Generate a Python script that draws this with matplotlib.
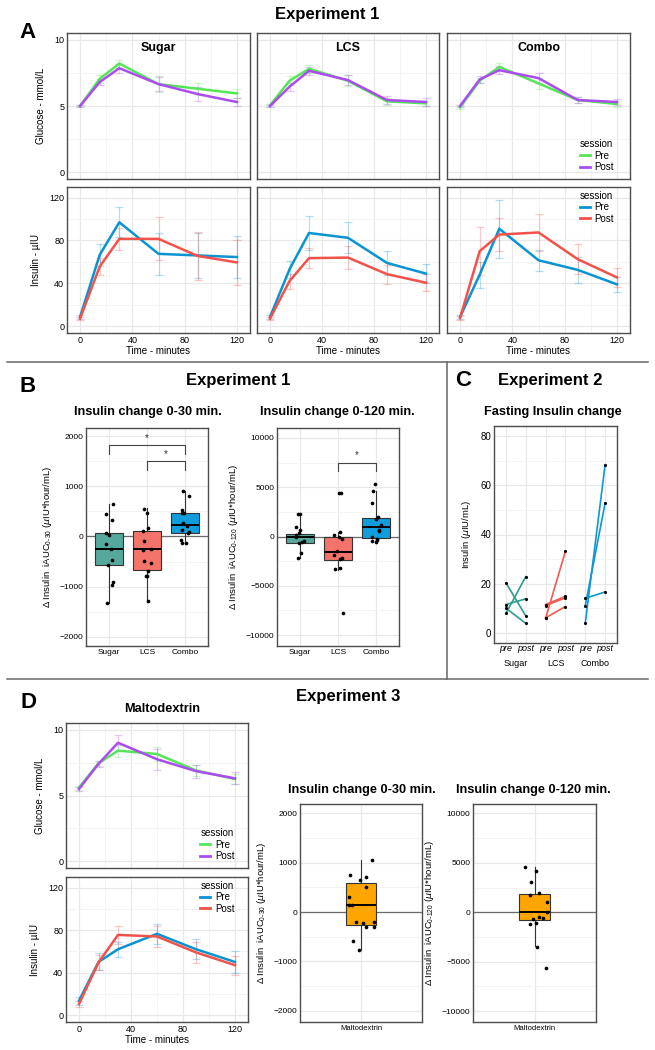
import numpy as np
import matplotlib.pyplot as plt
from matplotlib.lines import Line2D

plt.rcParams['font.family'] = ['Liberation Sans', 'DejaVu Sans']
plt.rcParams['mathtext.default'] = 'regular'

W, H = 655, 1050

# ---------------- data ----------------
times = [0, 15, 30, 60, 90, 120]

# Experiment 1 glucose (mmol/L), mean and SE
glu_sugar_pre = [5.0, 7.05, 8.2, 6.65, 6.3, 5.95]
glu_sugar_pre_se = [0.1, 0.3, 0.3, 0.6, 0.45, 0.35]
glu_sugar_post = [5.0, 6.8, 7.85, 6.65, 5.9, 5.3]
glu_sugar_post_se = [0.1, 0.25, 0.35, 0.55, 0.55, 0.3]
glu_lcs_pre = [5.05, 6.9, 7.8, 6.9, 5.35, 5.2]
glu_lcs_pre_se = [0.1, 0.35, 0.3, 0.4, 0.25, 0.2]
glu_lcs_post = [5.0, 6.45, 7.65, 6.95, 5.45, 5.3]
glu_lcs_post_se = [0.1, 0.3, 0.3, 0.4, 0.3, 0.3]
glu_combo_pre = [4.9, 6.9, 7.95, 6.7, 5.45, 5.15]
glu_combo_pre_se = [0.1, 0.2, 0.3, 0.4, 0.25, 0.2]
glu_combo_post = [5.0, 7.0, 7.7, 7.1, 5.45, 5.3]
glu_combo_post_se = [0.1, 0.25, 0.3, 0.4, 0.25, 0.25]

# Experiment 1 insulin (uIU), mean and SE
ins_sugar_pre = [8.5, 66.5, 97, 67.5, 66, 64.5]
ins_sugar_pre_se = [2, 10, 14, 19.5, 21, 20]
ins_sugar_post = [7, 55.5, 81.5, 81.5, 65.5, 59.5]
ins_sugar_post_se = [1.5, 8, 10, 20, 22, 21]
ins_lcs_pre = [8.5, 53, 87, 82.5, 59, 49]
ins_lcs_pre_se = [2, 8, 15.5, 14.5, 11, 9]
ins_lcs_post = [7, 42, 63.5, 64, 48.5, 40.5]
ins_lcs_post_se = [1.5, 7, 9.5, 11, 9, 8]
ins_combo_pre = [8.5, 48, 91, 61.5, 52.5, 39]
ins_combo_pre_se = [2, 12, 27, 10, 12, 7]
ins_combo_post = [7.5, 70, 85.5, 87.5, 62.5, 45.5]
ins_combo_post_se = [1.5, 22.5, 15.5, 17, 14, 9]

# Experiment 1 boxplots
box_groups = ['Sugar', 'LCS', 'Combo']
auc30_sugar = [650, 450, 330, 60, 20, -140, -250, -460, -560, -910, -960, -1320]
auc30_lcs = [550, 470, 160, 100, -80, -240, -260, -480, -530, -680, -780, -790, -1290]
auc30_combo = [910, 800, 520, 470, 460, 270, 215, 130, 95, 70, -70, -120, -135]
auc30_q1 = [-560, -660, 70]
auc30_med = [-240, -245, 235]
auc30_q3 = [60, 100, 475]
auc30_lo = [-1320, -1290, -135]
auc30_hi = [650, 560, 910]

auc120_sugar = [2320, 2320, 980, 670, 370, 200, 0, -500, -570, -640, -1720, -2220]
auc120_lcs = [4380, 4440, 440, 170, -100, -300, -1480, -1890, -2190, -2320, -3330, -3200, -7800]
auc120_combo = [5290, 4610, 3430, 1990, 1820, 1150, 640, 570, -100, -270, -370, -500, -510]
auc120_q1 = [-670, -2390, -170]
auc120_med = [0, -1520, 980]
auc120_q3 = [300, 0, 1850]
auc120_lo = [-2220, -3400, -510]
auc120_hi = [2320, 470, 4610]

# Experiment 2 fasting insulin (uIU/mL), paired pre/post
fast_sugar_pre = [20.4, 8.0, 11.6, 10.1]
fast_sugar_post = [7.0, 22.9, 13.9, 4.0]
fast_lcs_pre = [6.0, 11.6, 11.2, 6.2]
fast_lcs_post = [33.2, 14.9, 14.3, 10.8]
fast_combo_pre = [4.0, 11.1, 14.1]
fast_combo_post = [68.3, 52.7, 16.7]

# Experiment 3 maltodextrin
glu_malt_pre = [5.6, 7.45, 8.4, 8.15, 6.9, 6.25]
glu_malt_pre_se = [0.15, 0.2, 0.45, 0.5, 0.4, 0.4]
glu_malt_post = [5.5, 7.4, 9.0, 7.75, 6.85, 6.3]
glu_malt_post_se = [0.15, 0.25, 0.6, 0.8, 0.5, 0.45]
ins_malt_pre = [13.5, 50, 62, 76.5, 62, 50]
ins_malt_pre_se = [4, 8, 7, 9.5, 9.5, 10]
ins_malt_post = [10.5, 49.5, 75.5, 74, 59, 47]
ins_malt_post_se = [3, 7, 8.5, 10, 9.5, 9]

malt_auc30 = [1060, 755, 720, 640, 500, 300, 150, 135, -200, -200, -220, -310, -310, -590, -775]
malt30_stats = [-263, 142, 580, -775, 1060]  # q1, med, q3, lo, hi
malt_auc120 = [4610, 4180, 3100, 1750, 1920, 1080, 0, -440, -540, -640, -1210, -1110, -3470, -5660]
malt120_stats = [-774, 0, 1852, -3400, 4610]

# ---------------- style ----------------
GREEN, PURPLE = '#55e655', '#aa4cf0'
BLUE, RED = '#0a93d1', '#f2524a'
BOX_COLS = ['#55a99c', '#f4736b', '#0f9ddb']
LINE_COLS = ['#2f9c8e', '#f25a50', '#0e97d5']
ORANGE = '#ffa500'

fig = plt.figure(figsize=(W / 100, H / 100), dpi=100)


def rect(x0, y0, x1, y1):
    return [x0 / W, 1 - y1 / H, (x1 - x0) / W, (y1 - y0) / H]


def style(ax):
    for s in ax.spines.values():
        s.set_color('#4d4d4d')
        s.set_linewidth(1.0)
    ax.tick_params(which='both', length=0, labelsize=6.5, pad=2)
    ax.grid(which='major', color='#e8e8e8', lw=0.9)
    ax.grid(which='minor', color='#f3f3f3', lw=0.6)
    ax.set_axisbelow(True)


def curve(ax, pre, pre_se, post, post_se, c_pre, c_post):
    for m, s, c in ((pre, pre_se, c_pre), (post, post_se, c_post)):
        ax.errorbar(times, m, yerr=s, fmt='none', ecolor=c, alpha=0.3,
                    elinewidth=0.9, capsize=3.2, capthick=0.9)
    ax.plot(times, pre, color=c_pre, lw=1.8, label='Pre')
    ax.plot(times, post, color=c_post, lw=1.8, label='Post')
    ax.set_xlim(-10, 130)
    ax.set_xticks([0, 40, 80, 120])
    ax.set_xticks([20, 60, 100], minor=True)
    style(ax)


def glucose_axes(ax, left=True):
    ax.set_ylim(-0.5, 10.5)
    ax.set_yticks([0, 5, 10])
    ax.set_yticks([2.5, 7.5], minor=True)
    ax.set_xticklabels([])
    if left:
        ax.set_ylabel('Glucose - mmol/L', fontsize=7, labelpad=6)
    else:
        ax.set_yticklabels([])


def insulin_axes(ax, left=True):
    ax.set_ylim(-6.5, 130)
    ax.set_yticks([0, 40, 80, 120])
    ax.set_yticks([20, 60, 100], minor=True)
    ax.set_xlabel('Time - minutes', fontsize=7, labelpad=1)
    if left:
        ax.set_ylabel('Insulin - µIU', fontsize=7, labelpad=6)
    else:
        ax.set_yticklabels([])


def session_legend(ax, loc, anchor):
    lg = ax.legend(loc=loc, bbox_to_anchor=anchor, frameon=False, title='session',
                   fontsize=7, title_fontsize=7, handlelength=1.0, handletextpad=0.5,
                   labelspacing=0.15, borderpad=0.2, alignment='left')
    for ln in lg.get_lines():
        ln.set_linewidth(2)


def boxes(ax, q1, med, q3, lo, hi, positions, colors, width):
    stats = [dict(q1=a, med=b, q3=c, whislo=d, whishi=e, fliers=[])
             for a, b, c, d, e in zip(q1, med, q3, lo, hi)]
    bp = ax.bxp(stats, positions=positions, widths=width, patch_artist=True,
                showcaps=False, showfliers=False, manage_ticks=False,
                boxprops=dict(edgecolor='#333333', linewidth=0.8),
                medianprops=dict(color='black', linewidth=1.4),
                whiskerprops=dict(color='#333333', linewidth=0.8))
    for patch, c in zip(bp['boxes'], colors):
        patch.set_facecolor(c)
        patch.set_zorder(2)
    ax.axhline(0, color='#6b6b6b', lw=0.9, zorder=1.5)


def jitter_points(ax, pos, vals, spread, seed):
    rng = np.random.default_rng(seed)
    xs = pos + rng.uniform(-spread, spread, len(vals))
    ax.scatter(xs, vals, s=7, color='black', zorder=4, linewidths=0)


def bracket(ax, x1, x2, y_top, y_tip, y_star):
    ax.plot([x1, x1, x2, x2], [y_tip, y_top, y_top, y_tip], color='#444444', lw=0.8)
    ax.text((x1 + x2) / 2, y_star, '*', ha='center', va='center', fontsize=7, color='#333333')


def label(x, y, s, size, weight='bold', **kw):
    fig.text(x / W, 1 - y / H, s, ha='center', va='center', fontsize=size,
             fontweight=weight, **kw)


def auc_label(rng_txt):
    return (r'$\Delta$ Insulin  iAUC$_{' + rng_txt + r'}$ ($\mathit{\mu}$IU*hour/mL)')


# ---------------- panel A ----------------
label(327, 15, 'Experiment 1', 12)
label(28, 33, 'A', 16)

cols_x = [(67, 250), (257, 439), (447, 630)]
glu_data = [(glu_sugar_pre, glu_sugar_pre_se, glu_sugar_post, glu_sugar_post_se),
            (glu_lcs_pre, glu_lcs_pre_se, glu_lcs_post, glu_lcs_post_se),
            (glu_combo_pre, glu_combo_pre_se, glu_combo_post, glu_combo_post_se)]
ins_data = [(ins_sugar_pre, ins_sugar_pre_se, ins_sugar_post, ins_sugar_post_se),
            (ins_lcs_pre, ins_lcs_pre_se, ins_lcs_post, ins_lcs_post_se),
            (ins_combo_pre, ins_combo_pre_se, ins_combo_post, ins_combo_post_se)]

for i, (x0, x1) in enumerate(cols_x):
    axg = fig.add_axes(rect(x0, 33, x1, 179))
    curve(axg, *glu_data[i], GREEN, PURPLE)
    glucose_axes(axg, left=(i == 0))
    axg.text(0.5, 0.9, box_groups[i], transform=axg.transAxes, ha='center', va='center',
             fontsize=9, fontweight='bold')
    axi = fig.add_axes(rect(x0, 187, x1, 333))
    curve(axi, *ins_data[i], BLUE, RED)
    insulin_axes(axi, left=(i == 0))
    if i == 2:
        session_legend(axg, 'lower left', (0.69, 0.0))
        session_legend(axi, 'upper left', (0.69, 1.02))

# separators
fig.add_artist(Line2D([7 / W, 648 / W], [1 - 362 / H] * 2, color='#666666', lw=1.1))
fig.add_artist(Line2D([7 / W, 648 / W], [1 - 679 / H] * 2, color='#666666', lw=1.1))
fig.add_artist(Line2D([447 / W] * 2, [1 - 362 / H, 1 - 679 / H], color='#666666', lw=1.1))

# ---------------- panel B ----------------
label(28, 386, 'B', 16)
label(238, 380, 'Experiment 1', 12)
label(148, 412, 'Insulin change 0-30 min.', 9.2)
label(337, 412, 'Insulin change 0-120 min.', 9.2)

pos3 = np.array([1, 2, 3])
axb1 = fig.add_axes(rect(86, 428, 208, 646))
boxes(axb1, auc30_q1, auc30_med, auc30_q3, auc30_lo, auc30_hi, pos3, BOX_COLS, 0.75)
for k, vals in enumerate([auc30_sugar, auc30_lcs, auc30_combo]):
    jitter_points(axb1, pos3[k], vals, 0.12, 10 + k)
bracket(axb1, 1, 3, 1820, 1650, 1960)
bracket(axb1, 2, 3, 1510, 1330, 1650)
axb1.set_xlim(0.4, 3.6)
axb1.set_ylim(-2180, 2160)
axb1.set_yticks([-2000, -1000, 0, 1000, 2000])
axb1.set_yticks([-1500, -500, 500, 1500], minor=True)
axb1.set_xticks(pos3)
axb1.set_xticklabels(box_groups)
style(axb1)
axb1.tick_params(labelsize=6)
axb1.set_ylabel(auc_label(r'0\text{-}30'), fontsize=6.8, labelpad=4)

axb2 = fig.add_axes(rect(277, 428, 399, 646))
boxes(axb2, auc120_q1, auc120_med, auc120_q3, auc120_lo, auc120_hi, pos3, BOX_COLS, 0.75)
for k, vals in enumerate([auc120_sugar, auc120_lcs, auc120_combo]):
    jitter_points(axb2, pos3[k], vals, 0.12, 20 + k)
bracket(axb2, 2, 3, 7480, 6630, 8250)
axb2.set_xlim(0.4, 3.6)
axb2.set_ylim(-11100, 11000)
axb2.set_yticks([-10000, -5000, 0, 5000, 10000])
axb2.set_yticks([-7500, -2500, 2500, 7500], minor=True)
axb2.set_xticks(pos3)
axb2.set_xticklabels(box_groups)
style(axb2)
axb2.tick_params(labelsize=6)
axb2.set_ylabel(auc_label(r'0\text{-}120'), fontsize=6.8, labelpad=4)

# ---------------- panel C ----------------
label(463, 380, 'C', 16)
label(550, 380, 'Experiment 2', 12)
label(553, 412, 'Fasting Insulin change', 9.2)

axc = fig.add_axes(rect(494, 426, 617, 643))
fast = [(fast_sugar_pre, fast_sugar_post), (fast_lcs_pre, fast_lcs_post),
        (fast_combo_pre, fast_combo_post)]
for k, (pre, post) in enumerate(fast):
    xp, xq = 2 * k + 1, 2 * k + 2
    for a, b in zip(pre, post):
        axc.plot([xp, xq], [a, b], color=LINE_COLS[k], lw=1.2, zorder=2)
    axc.scatter([xp] * len(pre) + [xq] * len(post), list(pre) + list(post),
                s=5, color='black', zorder=3, linewidths=0)
axc.set_xlim(0.4, 6.6)
axc.set_ylim(-4, 84)
axc.set_yticks([0, 20, 40, 60, 80])
axc.set_yticks([10, 30, 50, 70], minor=True)
axc.set_xticks([1, 2, 3, 4, 5, 6])
axc.set_xticklabels(['pre', 'post'] * 3, fontstyle='italic')
style(axc)
axc.tick_params(axis='x', labelsize=6.5, pad=1)
axc.tick_params(axis='y', labelsize=7)
for k, g in enumerate(box_groups):
    axc.text(2 * k + 1.5, -0.095, g, transform=axc.get_xaxis_transform(),
             ha='center', va='center', fontsize=6.5)
axc.set_ylabel(r'Insulin ($\mathit{\mu}$IU/mL)', fontsize=6.8, labelpad=5)

# ---------------- panel D ----------------
label(28, 702, 'D', 16)
label(348, 697, 'Experiment 3', 12)
label(162, 709, 'Maltodextrin', 9.2)

axdg = fig.add_axes(rect(66, 723, 248, 868))
curve(axdg, glu_malt_pre, glu_malt_pre_se, glu_malt_post, glu_malt_post_se, GREEN, PURPLE)
glucose_axes(axdg)
session_legend(axdg, 'lower left', (0.7, 0.0))

axdi = fig.add_axes(rect(66, 877, 248, 1022))
curve(axdi, ins_malt_pre, ins_malt_pre_se, ins_malt_post, ins_malt_post_se, BLUE, RED)
insulin_axes(axdi)
session_legend(axdi, 'upper left', (0.7, 1.02))

label(362, 790, 'Insulin change 0-30 min.', 9.2)
label(533, 790, 'Insulin change 0-120 min.', 9.2)

axd1 = fig.add_axes(rect(300, 804, 422, 1022))
boxes(axd1, [malt30_stats[0]], [malt30_stats[1]], [malt30_stats[2]],
      [malt30_stats[3]], [malt30_stats[4]], [1], [ORANGE], 0.3)
jitter_points(axd1, 1, malt_auc30, 0.13, 31)
axd1.set_xlim(0.4, 1.6)
axd1.set_ylim(-2230, 2190)
axd1.set_yticks([-2000, -1000, 0, 1000, 2000])
axd1.set_yticks([-1500, -500, 500, 1500], minor=True)
axd1.set_xticks([1])
axd1.set_xticklabels(['Maltodextrin'])
style(axd1)
axd1.tick_params(labelsize=6)
axd1.tick_params(axis='x', labelsize=5.5)
axd1.set_ylabel(auc_label(r'0\text{-}30'), fontsize=6.8, labelpad=4)

axd2 = fig.add_axes(rect(473, 804, 596, 1022))
boxes(axd2, [malt120_stats[0]], [malt120_stats[1]], [malt120_stats[2]],
      [malt120_stats[3]], [malt120_stats[4]], [1], [ORANGE], 0.3)
jitter_points(axd2, 1, malt_auc120, 0.13, 32)
axd2.set_xlim(0.4, 1.6)
axd2.set_ylim(-11100, 10950)
axd2.set_yticks([-10000, -5000, 0, 5000, 10000])
axd2.set_yticks([-7500, -2500, 2500, 7500], minor=True)
axd2.set_xticks([1])
axd2.set_xticklabels(['Maltodextrin'])
style(axd2)
axd2.tick_params(labelsize=6)
axd2.tick_params(axis='x', labelsize=5.5)
axd2.set_ylabel(auc_label(r'0\text{-}120'), fontsize=6.8, labelpad=4)

fig.savefig('out.png', dpi=100)
